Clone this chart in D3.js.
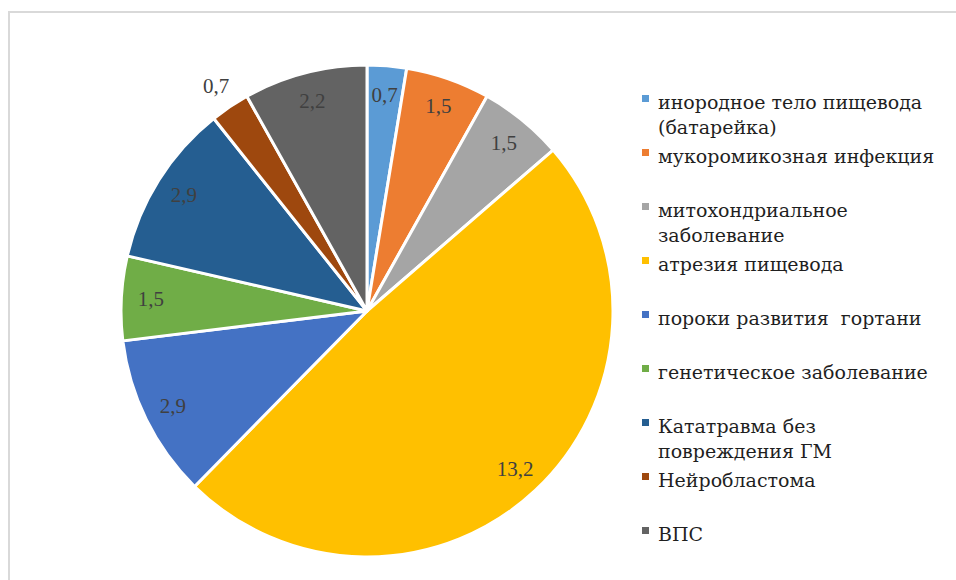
<!DOCTYPE html>
<html>
<head>
<meta charset="utf-8">
<script src="https://cdn.jsdelivr.net/npm/d3@7"></script>
<style>
  html, body { margin: 0; padding: 0; background: #fff; }
</style>
</head>
<body>
<svg id="chart" width="956" height="580"></svg>
<script>
// Diagnoses (legend lines) and their shares
const categories = [
  ["инородное тело пищевода", "(батарейка)"],
  ["мукоромикозная инфекция"],
  ["митохондриальное", "заболевание"],
  ["атрезия пищевода"],
  ["пороки развития  гортани"],
  ["генетическое заболевание"],
  ["Кататравма без", "повреждения ГМ"],
  ["Нейробластома"],
  ["ВПС"]
];
const values = [0.7, 1.5, 1.5, 13.2, 2.9, 1.5, 2.9, 0.7, 2.2];
const valueLabels = ["0,7", "1,5", "1,5", "13,2", "2,9", "1,5", "2,9", "0,7", "2,2"];
const colors = ["#5B9BD5", "#ED7D31", "#A5A5A5", "#FFC000", "#4472C4",
                "#70AD47", "#255E91", "#9E480E", "#636363"];

const LABEL_FONT = "'Liberation Serif', 'Times New Roman', serif";
const LEGEND_FONT = "'DejaVu Serif', serif";
const svg = d3.select("#chart");

// chart-area frame
svg.append("rect")
  .attr("x", 9).attr("y", 12)
  .attr("width", 1000).attr("height", 700)
  .attr("fill", "none").attr("stroke", "#d9d9d9").attr("stroke-width", 2);

const cx = 367, cy = 311, R = 246;
const g = svg.append("g").attr("transform", `translate(${cx},${cy})`);

const pie = d3.pie().sort(null).value(d => d)(values);
const arc = d3.arc().innerRadius(0).outerRadius(R);
const color = d3.scaleOrdinal().domain(d3.range(values.length)).range(colors);

g.selectAll("path.slice")
  .data(pie)
  .join("path")
  .attr("class", "slice")
  .attr("d", arc)
  .attr("fill", (d, i) => color(i))
  .attr("stroke", "#fff")
  .attr("stroke-width", 3)
  .attr("stroke-linejoin", "round");

// data labels: inside near the rim; the Нейробластома label sits outside
const outsideLabels = new Set([7]);
const inArc = d3.arc().innerRadius(R * 0.88).outerRadius(R * 0.88);
const outArc = d3.arc().innerRadius(R * 1.1).outerRadius(R * 1.1);

g.selectAll("text.val")
  .data(pie)
  .join("text")
  .attr("class", "val")
  .attr("transform", (d, i) => `translate(${(outsideLabels.has(i) ? outArc : inArc).centroid(d)})`)
  .attr("text-anchor", "middle")
  .attr("dy", "0.32em")
  .attr("font-family", LABEL_FONT)
  .attr("font-size", 21)
  .attr("fill", "#404040")
  .text((d, i) => valueLabels[i]);

// legend
const legendY = d3.scalePoint().domain(d3.range(categories.length)).range([103, 535]);
const lg = svg.append("g");
const items = lg.selectAll("g.item")
  .data(categories)
  .join("g")
  .attr("class", "item")
  .attr("transform", (d, i) => `translate(642,${legendY(i)})`);

items.append("rect")
  .attr("x", 0).attr("y", -8)
  .attr("width", 7).attr("height", 7)
  .attr("fill", (d, i) => color(i));

items.each(function(lines) {
  const t = d3.select(this).append("text")
    .attr("x", 16).attr("y", 6)
    .attr("font-family", LEGEND_FONT)
    .attr("font-size", 19)
    .attr("fill", "#1f1f1f")
    .style("white-space", "pre");
  lines.forEach((line, k) => {
    t.append("tspan").attr("x", 16).attr("dy", k === 0 ? 0 : 24.5).text(line);
  });
});
</script>
</body>
</html>
